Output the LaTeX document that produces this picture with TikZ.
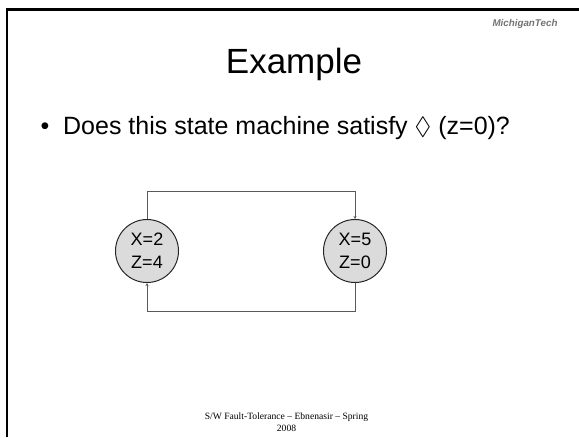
\documentclass[tikz,border=0pt]{standalone}
\usepackage{fontspec}
\setmainfont{Liberation Sans}
\newfontfamily\footfont{Liberation Serif}
\usepackage{amssymb}
\usetikzlibrary{arrows.meta,positioning,calc}
\begin{document}
\begin{tikzpicture}[x=1pt,y=-1pt,
  statenode/.style={circle, draw=black!85, line width=1pt, fill=black!14, minimum size=63pt, inner sep=0pt, align=center, font=\fontsize{18}{23}\selectfont},
  arr/.style={-{Stealth[length=3pt,width=3pt]}, black!65, line width=0.7pt}]
\useasboundingbox (0,0) rectangle (579,437);
\draw[line width=2.2pt] (7,437) -- (7,9.5) -- (579,9.5);
\node[font=\fontsize{9.8}{10}\selectfont\bfseries\itshape, text=black!55] (logo) at (525,24) {MichiganTech};
\node[font=\fontsize{35}{40}\selectfont, anchor=base] (title) at (294,73) {Example};
\node[font=\fontsize{25}{30}\selectfont, anchor=west] (bullet) at (37,128) {\textbullet\ \ Does this state machine satisfy $\Diamond$ (z=0)?};
\node[statenode] (sa) at (147,251) {X=2\\Z=4};
\node[statenode] (sb) at (355,251) {X=5\\Z=0};
\coordinate (top a) at (147,191);
\coordinate (top b) at (355,191);
\coordinate (bot a) at (147,311);
\coordinate (bot b) at (355,311);
% edges between the two states
\draw[arr] (sa.north) -- (top a) -- (top b) -- (sb.north);
\draw[arr] (sb.south) -- (bot b) -- (bot a) -- (sa.south);
\node[font=\footfont\fontsize{9.6}{12}\selectfont, align=center] (foot) at (286.5,422) {S/W Fault-Tolerance – Ebnenasir – Spring\\2008};
\end{tikzpicture}
\end{document}
